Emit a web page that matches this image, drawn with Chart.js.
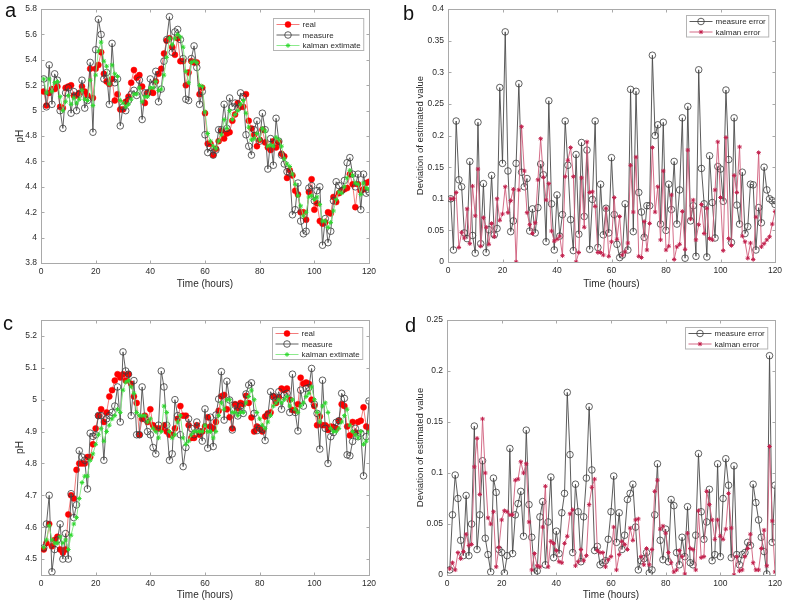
<!DOCTYPE html>
<html>
<head>
<meta charset="utf-8">
<script src="https://cdn.jsdelivr.net/npm/chart.js@4.4.1/dist/chart.umd.min.js"></script>
<style>
  html, body { margin:0; padding:0; background:#ffffff; }
  #wrap { position:relative; width:787px; height:605px; overflow:hidden; background:#fff; }
  canvas { position:absolute; }
  .tag { position:absolute; font-family:"Liberation Sans", Arial, Helvetica, sans-serif; font-size:20px; line-height:20px; color:#111; }
</style>
</head>
<body>
<div id="wrap">
  <canvas id="ca" width="393" height="300" style="left:0px;top:0px;width:393px;height:300px"></canvas>
  <canvas id="cb" width="394" height="300" style="left:393px;top:0px;width:394px;height:300px"></canvas>
  <canvas id="cc" width="393" height="305" style="left:0px;top:300px;width:393px;height:305px"></canvas>
  <canvas id="cd" width="394" height="305" style="left:393px;top:300px;width:394px;height:305px"></canvas>
  <div class="tag" style="left:5px;top:0px">a</div>
  <div class="tag" style="left:403px;top:3px">b</div>
  <div class="tag" style="left:3px;top:313px">c</div>
  <div class="tag" style="left:405px;top:315px">d</div>
</div>
<script>
// ---------------- data ----------------
const hours = [1,2,3,4,5,6,7,8,9,10,11,12,13,14,15,16,17,18,19,20,21,22,23,24,25,26,27,28,29,30,
31,32,33,34,35,36,37,38,39,40,41,42,43,44,45,46,47,48,49,50,51,52,53,54,55,56,57,58,59,60,
61,62,63,64,65,66,67,68,69,70,71,72,73,74,75,76,77,78,79,80,81,82,83,84,85,86,87,88,89,90,
91,92,93,94,95,96,97,98,99,100,101,102,103,104,105,106,107,108,109,110,111,112,113,114,115,116,117,118,119,120];

const xTicks = [0,20,40,60,80,100,120];
const yTicksA = [3.8,4,4.2,4.4,4.6,4.8,5,5.2,5.4,5.6,5.8];
const yTicksB = [0,0.05,0.1,0.15,0.2,0.25,0.3,0.35,0.4];
const yTicksC = [4.5,4.6,4.7,4.8,4.9,5,5.1,5.2];
const yTicksD = [0,0.05,0.1,0.15,0.2,0.25];

// panel a
const realA = [5.15,5.04,5.14,5.17,5.17,5.19,5.03,5.02,5.18,5.19,
5.2,5.12,5.12,5.14,5.19,5.15,5.12,5.33,5.1,5.33,
5.36,5.46,5.29,5.23,5.21,5.25,5.08,5.13,5.01,5.01,
5.07,5.11,5.22,5.32,5.26,5.28,5.19,5.06,5.14,5.15,
5.14,5.23,5.29,5.33,5.45,5.55,5.57,5.5,5.44,5.57,
5.39,5.39,5.2,5.3,5.39,5.38,5.38,5.13,5.18,4.98,
4.74,4.74,4.65,4.7,4.76,4.84,4.78,4.82,4.83,4.92,
4.97,5.06,5.03,5.03,5.13,4.92,4.86,4.81,4.72,4.77,
4.85,4.75,4.71,4.69,4.76,4.71,4.75,4.66,4.64,4.47,
4.53,4.49,4.37,4.34,4.2,4.2,4.14,4.36,4.46,4.22,
4.27,4.13,4.11,4.12,4.2,4.19,4.32,4.28,4.35,4.37,
4.38,4.39,4.5,4.42,4.24,4.42,4.37,4.38,4.43,4.44];
const measureA = [5.25,5.03,5.36,5.05,5.29,5.24,5.0,4.86,5.14,5.18,
4.98,5.15,5.0,5.13,5.24,5.02,5.08,5.38,4.83,5.48,
5.72,5.6,5.25,5.3,5.05,5.53,5.22,5.25,4.88,5.03,
5.0,5.08,5.13,5.16,5.12,5.24,4.93,5.14,5.14,5.25,
5.2,5.31,5.07,5.17,5.39,5.56,5.74,5.46,5.62,5.64,
5.56,5.41,5.09,5.08,5.41,5.51,5.34,5.05,5.15,4.81,
4.67,4.71,4.65,4.69,4.85,4.85,5.05,4.86,5.1,5.03,
5.06,5.02,5.14,5.11,4.81,4.72,4.65,4.85,4.92,4.76,
4.98,4.85,4.54,4.78,4.57,4.94,4.76,4.65,4.58,4.52,
4.51,4.18,4.22,4.43,4.13,4.03,4.05,4.39,4.41,4.29,
4.37,4.4,3.94,4.15,3.96,4.05,4.29,4.44,4.41,4.37,
4.45,4.59,4.63,4.5,4.4,4.5,4.22,4.5,4.35,4.36];
const kalmanA = [5.25,5.14,5.25,5.15,5.22,5.23,5.11,5.0,5.07,5.12,
5.05,5.1,5.06,5.09,5.16,5.09,5.08,5.24,5.04,5.28,
5.47,5.54,5.39,5.35,5.21,5.36,5.29,5.27,5.08,5.06,
5.03,5.05,5.09,5.13,5.13,5.18,5.07,5.11,5.11,5.18,
5.18,5.23,5.16,5.17,5.28,5.42,5.57,5.52,5.57,5.6,
5.58,5.5,5.31,5.22,5.38,5.39,5.38,5.2,5.19,4.99,
4.82,4.76,4.72,4.7,4.76,4.81,4.93,4.86,5.0,4.93,
4.97,5.0,5.05,5.08,4.98,4.87,4.77,4.78,4.82,4.77,
4.86,4.84,4.72,4.73,4.72,4.79,4.77,4.72,4.62,4.58,
4.56,4.5,4.42,4.33,4.25,4.17,4.2,4.32,4.33,4.3,
4.32,4.26,4.13,4.13,4.08,4.12,4.21,4.3,4.36,4.35,
4.4,4.47,4.53,4.49,4.43,4.42,4.34,4.43,4.39,4.38];

// panel b
const measureErrB = [0.1,0.019,0.223,0.13,0.119,0.046,0.037,0.159,0.042,0.014,
0.221,0.029,0.124,0.015,0.051,0.137,0.043,0.053,0.276,0.156,
0.364,0.144,0.048,0.065,0.156,0.282,0.142,0.119,0.132,0.049,
0.084,0.046,0.086,0.155,0.138,0.032,0.255,0.092,0.019,0.106,
0.041,0.075,0.223,0.153,0.067,0.018,0.17,0.044,0.189,0.072,
0.177,0.02,0.099,0.223,0.023,0.123,0.043,0.085,0.046,0.165,
0.075,0.028,0.007,0.011,0.092,0.019,0.273,0.048,0.27,0.11,
0.079,0.039,0.089,0.089,0.327,0.2,0.217,0.06,0.221,0.05,
0.123,0.083,0.159,0.06,0.114,0.228,0.006,0.246,0.065,0.089,
0.009,0.304,0.148,0.092,0.008,0.168,0.094,0.038,0.151,0.147,
0.096,0.272,0.162,0.031,0.228,0.09,0.06,0.142,0.045,0.056,
0.123,0.122,0.019,0.086,0.062,0.15,0.114,0.1,0.097,0.091];
const kalmanErrB = [0.1,0.1,0.11,0.023,0.047,0.038,0.084,0.029,0.12,0.073,
0.147,0.025,0.07,0.055,0.028,0.061,0.04,0.1,0.066,0.076,
0.119,0.078,0.097,0.115,0.0,0.114,0.214,0.144,0.078,0.059,
0.045,0.062,0.13,0.195,0.134,0.098,0.124,0.049,0.033,0.036,
0.041,0.01,0.135,0.161,0.181,0.135,0.0,0.015,0.133,0.055,
0.19,0.11,0.111,0.088,0.015,0.015,0.011,0.085,0.009,0.032,
0.102,0.036,0.072,0.011,0.016,0.03,0.153,0.079,0.166,0.009,
0.007,0.064,0.019,0.061,0.181,0.079,0.119,0.035,0.144,0.019,
0.025,0.106,0.004,0.024,0.028,0.08,0.02,0.177,0.068,0.098,
0.035,0.059,0.091,0.045,0.085,0.037,0.035,0.114,0.19,0.102,
0.018,0.197,0.037,0.026,0.137,0.11,0.182,0.041,0.032,0.006,
0.03,0.004,0.071,0.173,0.024,0.029,0.035,0.04,0.06,0.08];

// panel c
const realC = [4.53,4.55,4.61,4.54,4.56,4.57,4.53,4.52,4.53,4.64,
4.7,4.69,4.78,4.8,4.8,4.8,4.82,4.82,4.86,4.91,
4.95,4.97,4.93,4.96,5.01,5.03,5.06,5.08,5.07,5.08,
5.06,5.08,5.05,5.01,4.99,4.89,4.94,4.95,4.93,4.97,
4.92,4.91,4.91,4.91,4.92,4.9,4.89,4.89,4.91,4.94,
4.98,4.95,4.95,4.92,4.88,4.88,4.92,4.89,4.9,4.916,
4.945,4.916,4.91,4.93,4.965,5.011,5.015,4.97,4.945,4.91,
4.986,4.973,4.99,4.986,5.012,4.99,4.944,4.9,4.916,4.91,
4.9,4.947,4.957,4.96,5.011,4.99,5.007,5.035,5.03,5.035,
5.0,4.968,4.966,4.986,5.069,5.05,5.054,5.05,5.0,4.98,
4.92,4.947,4.92,4.92,4.905,4.916,4.914,4.91,4.934,4.986,
4.98,4.916,4.888,4.93,4.897,4.93,4.934,4.976,4.916,4.91];
const measureC = [4.535,4.61,4.7,4.46,4.53,4.56,4.61,4.5,4.58,4.5,
4.705,4.63,4.67,4.84,4.82,4.81,4.72,4.895,4.885,4.89,
4.95,4.95,4.81,4.94,4.95,4.96,4.98,5.04,4.93,5.15,
5.09,5.08,4.95,5.06,4.89,4.89,5.04,4.94,4.9,4.89,
4.85,4.83,4.92,5.09,5.04,4.92,4.81,4.83,5.0,4.95,
4.89,4.79,4.85,4.94,4.91,4.89,4.93,4.9,4.87,4.971,
4.848,4.945,4.853,4.952,5.002,5.088,4.936,5.058,4.999,4.905,
4.983,4.949,4.98,4.957,5.018,5.046,5.053,4.957,4.903,4.91,
4.907,4.872,4.952,5.025,5.009,4.999,5.025,4.97,5.015,5.02,
4.96,5.08,4.96,4.902,5.03,4.98,5.035,5.038,5.098,4.986,
4.957,4.845,5.061,4.91,4.8,4.884,4.897,4.929,4.934,5.02,
5.004,4.827,4.824,4.869,4.91,4.884,4.895,4.761,4.884,4.996];
const kalmanC = [4.536,4.56,4.605,4.56,4.55,4.55,4.57,4.55,4.56,4.53,
4.575,4.61,4.63,4.69,4.74,4.76,4.76,4.81,4.83,4.86,
4.89,4.91,4.87,4.9,4.92,4.94,4.95,4.97,4.96,5.03,
5.055,5.06,5.04,5.02,4.96,4.95,4.95,4.95,4.93,4.94,
4.91,4.9,4.88,4.9,4.98,4.96,4.9,4.88,4.89,4.93,
4.95,4.88,4.86,4.87,4.89,4.9,4.9,4.9,4.9,4.92,
4.9,4.9,4.88,4.9,4.95,4.99,4.97,5.0,5.0,4.96,
4.96,4.95,4.96,4.96,4.99,5.01,5.03,5.0,4.96,4.94,
4.92,4.91,4.93,4.95,4.98,4.99,5.0,4.99,5.0,5.01,
4.98,5.0,4.97,4.96,4.98,4.99,5.01,5.02,5.04,5.0,
4.96,4.93,4.98,4.99,4.96,4.91,4.9,4.9,4.91,4.93,
4.95,4.97,4.92,4.9,4.89,4.88,4.9,4.86,4.87,4.9];

// panel d
const measureErrD = [0.005,0.059,0.098,0.075,0.034,0.019,0.078,0.019,0.05,0.146,
0.025,0.059,0.112,0.036,0.02,0.003,0.095,0.081,0.025,0.022,
0.002,0.019,0.124,0.021,0.059,0.07,0.082,0.038,0.142,0.069,
0.037,0.002,0.004,0.057,0.072,0.01,0.052,0.096,0.017,0.043,
0.021,0.061,0.08,0.179,0.118,0.022,0.089,0.062,0.013,0.057,
0.095,0.165,0.103,0.024,0.028,0.01,0.012,0.014,0.035,0.062,
0.097,0.032,0.061,0.025,0.039,0.074,0.08,0.089,0.047,0.005,
0.014,0.016,0.022,0.002,0.005,0.059,0.109,0.034,0.015,0.045,
0.013,0.074,0.068,0.022,0.01,0.037,0.018,0.067,0.012,0.01,
0.039,0.119,0.062,0.035,0.052,0.084,0.014,0.02,0.109,0.018,
0.075,0.114,0.088,0.017,0.107,0.02,0.01,0.02,0.022,0.032,
0.029,0.089,0.071,0.054,0.037,0.023,0.001,0.215,0.032,0.088];
const kalmanErrD = [0.006,0.012,0.005,0.022,0.016,0.023,0.04,0.029,0.03,0.106,
0.134,0.079,0.153,0.1,0.056,0.05,0.062,0.008,0.027,0.054,
0.063,0.062,0.059,0.059,0.093,0.094,0.111,0.1,0.109,0.052,
0.005,0.021,0.009,0.008,0.047,0.087,0.008,0.033,0.031,0.024,
0.013,0.012,0.031,0.038,0.06,0.064,0.009,0.013,0.025,0.014,
0.019,0.069,0.086,0.094,0.024,0.022,0.022,0.008,0.015,0.018,
0.047,0.005,0.02,0.033,0.03,0.025,0.046,0.034,0.054,0.055,
0.018,0.01,0.026,0.01,0.025,0.082,0.093,0.045,0.048,0.041,
0.022,0.012,0.003,0.005,0.024,0.018,0.001,0.041,0.026,0.025,
0.005,0.063,0.017,0.018,0.082,0.069,0.054,0.035,0.054,0.038,
0.035,0.045,0.08,0.046,0.0,0.018,0.004,0.005,0.018,0.026,
0.04,0.012,0.005,0.005,0.026,0.044,0.009,0.126,0.053,0.003];

// ---------------- styling ----------------
const FONT = '"Liberation Sans", Arial, Helvetica, sans-serif';
const AXIS_COLOR = '#a9a9a9';
const TEXT_COLOR = '#2b2b2b';

const pts = arr => hours.map((h, i) => ({ x: h, y: arr[i] }));

const styleReal = { borderColor:'#f26c6c', borderWidth:0.9, pointStyle:'circle', pointRadius:3, pointBackgroundColor:'#ff0000', pointBorderColor:'#ff0000', pointBorderWidth:0.5 };
const styleMeasure = { borderColor:'#505050', borderWidth:0.9, pointStyle:'circle', pointRadius:3.3, pointBackgroundColor:'rgba(0,0,0,0)', pointBorderColor:'#3a3a3a', pointBorderWidth:0.8 };
const styleKalman = { borderColor:'#7fe87f', borderWidth:0.9, pointStyle:'star', pointRadius:2.3, pointBackgroundColor:'#2fd82f', pointBorderColor:'#2fd82f', pointBorderWidth:1 };
const styleMErr = { borderColor:'#4a4a4a', borderWidth:0.9, pointStyle:'circle', pointRadius:3.3, pointBackgroundColor:'rgba(0,0,0,0)', pointBorderColor:'#3a3a3a', pointBorderWidth:0.8 };
const styleKErr = { borderColor:'#cf5c7a', borderWidth:0.9, pointStyle:'star', pointRadius:2.2, pointBackgroundColor:'#c2214d', pointBorderColor:'#c2214d', pointBorderWidth:1 };

// box + inward tick marks like MATLAB
const boxPlugin = {
  id: 'mbox',
  beforeDatasetsDraw(chart) {
    const { ctx, chartArea: { left, right, top, bottom }, scales: { x, y } } = chart;
    ctx.save();
    ctx.strokeStyle = AXIS_COLOR;
    ctx.lineWidth = 1;
    const L = Math.round(left) + 0.5, R = Math.round(right) + 0.5, T = Math.round(top) + 0.5, B = Math.round(bottom) + 0.5;
    ctx.strokeRect(L, T, R - L, B - T);
    const tl = 3;
    ctx.beginPath();
    x.ticks.forEach(t => {
      const px = Math.round(x.getPixelForValue(t.value)) + 0.5;
      ctx.moveTo(px, B); ctx.lineTo(px, B - tl);
      ctx.moveTo(px, T); ctx.lineTo(px, T + tl);
    });
    y.ticks.forEach(t => {
      const py = Math.round(y.getPixelForValue(t.value)) + 0.5;
      ctx.moveTo(L, py); ctx.lineTo(L + tl, py);
      ctx.moveTo(R, py); ctx.lineTo(R - tl, py);
    });
    ctx.stroke();
    ctx.restore();
  }
};

function drawMarker(ctx, ds, cx, cy) {
  ctx.save();
  ctx.lineWidth = ds.pointBorderWidth;
  ctx.strokeStyle = ds.pointBorderColor;
  ctx.fillStyle = ds.pointBackgroundColor;
  const r = ds.pointRadius;
  if (ds.pointStyle === 'circle') {
    ctx.beginPath(); ctx.arc(cx, cy, r, 0, Math.PI * 2);
    ctx.fill(); ctx.stroke();
  } else {
    ctx.beginPath();
    for (let k = 0; k < 4; k++) {
      const a = k * Math.PI / 4;
      ctx.moveTo(cx - Math.cos(a) * r, cy - Math.sin(a) * r);
      ctx.lineTo(cx + Math.cos(a) * r, cy + Math.sin(a) * r);
    }
    ctx.stroke();
  }
  ctx.restore();
}

// legend box in the upper right of the axes
const legendPlugin = {
  id: 'mlegend',
  afterDraw(chart, args, opts) {
    const { ctx, chartArea } = chart;
    const dsets = chart.data.datasets;
    ctx.save();
    ctx.font = '8px ' + FONT;
    let maxW = 0;
    dsets.forEach(d => { maxW = Math.max(maxW, ctx.measureText(d.label).width); });
    const rowH = 10.5;
    const w = 29 + maxW + 3;
    const h = 6 + (dsets.length - 1) * rowH + 5;
    const bx = Math.round(chartArea.right - opts.inset - w) + 0.5;
    const by = Math.round(chartArea.top + opts.top) + 0.5;
    ctx.fillStyle = '#ffffff';
    ctx.fillRect(bx, by, w, h);
    ctx.strokeStyle = '#b4b4b4';
    ctx.lineWidth = 1;
    ctx.strokeRect(bx, by, w, h);
    dsets.forEach((d, i) => {
      const cy = by + 6 + i * rowH;
      ctx.strokeStyle = d.borderColor;
      ctx.lineWidth = d.borderWidth;
      ctx.beginPath(); ctx.moveTo(bx + 3, cy); ctx.lineTo(bx + 26, cy); ctx.stroke();
      drawMarker(ctx, d, bx + 14.5, cy);
      ctx.fillStyle = TEXT_COLOR;
      ctx.textBaseline = 'middle';
      ctx.textAlign = 'left';
      ctx.fillText(d.label, bx + 29, cy + 0.5);
    });
    ctx.restore();
  }
};

const fmt = v => String(Number(v.toFixed(3)));

function makeChart(id, datasets, cfg) {
  const tickFont = { family: FONT, size: 8.5 };
  return new Chart(document.getElementById(id), {
    type: 'line',
    data: { datasets },
    options: {
      responsive: false,
      animation: false,
      devicePixelRatio: 1,
      events: [],
      layout: { padding: { top: cfg.padTop, right: cfg.padRight, left: 0, bottom: 0 } },
      elements: { line: { tension: 0 } },
      plugins: {
        legend: { display: false },
        tooltip: { enabled: false },
        mlegend: { inset: cfg.legInset, top: cfg.legTop }
      },
      scales: {
        x: {
          type: 'linear', min: 0, max: 120,
          afterBuildTicks: s => { s.ticks = xTicks.map(v => ({ value: v })); },
          afterFit: s => { s.height = cfg.xH; },
          grid: { display: false, drawTicks: false, tickLength: 0 }, border: { display: false },
          ticks: { font: tickFont, color: TEXT_COLOR, padding: 4, maxRotation: 0, autoSkip: false, callback: v => fmt(v) },
          title: { display: true, text: 'Time (hours)', color: TEXT_COLOR, font: { family: FONT, size: 10 }, padding: { top: 0, bottom: cfg.xTitlePad } }
        },
        y: {
          type: 'linear', min: cfg.yMin, max: cfg.yMax,
          afterBuildTicks: s => { s.ticks = cfg.yTicks.map(v => ({ value: v })); },
          afterFit: s => { s.width = cfg.yW; },
          grid: { display: false, drawTicks: false, tickLength: 0 }, border: { display: false },
          ticks: { font: tickFont, color: TEXT_COLOR, padding: 4, autoSkip: false, callback: v => fmt(v) },
          title: { display: true, text: cfg.yTitle, color: TEXT_COLOR, font: { family: FONT, size: cfg.yTitleSize }, padding: { top: cfg.yTitlePad, bottom: 0 } }
        }
      }
    },
    plugins: [boxPlugin, legendPlugin]
  });
}

makeChart('ca', [
  Object.assign({ label: 'real', data: pts(realA), order: 3 }, styleReal),
  Object.assign({ label: 'measure', data: pts(measureA), order: 2 }, styleMeasure),
  Object.assign({ label: 'kalman extimate', data: pts(kalmanA), order: 1 }, styleKalman)
], { padTop: 6, padRight: 24, xH: 37, yW: 41, yMin: 3.8, yMax: 5.8, yTicks: yTicksA, yTitle: 'pH', yTitleSize: 10, yTitlePad: 14, xTitlePad: 10, legInset: 6, legTop: 9 });

makeChart('cb', [
  Object.assign({ label: 'measure error', data: pts(measureErrB), order: 2 }, styleMErr),
  Object.assign({ label: 'kalman error', data: pts(kalmanErrB), order: 1 }, styleKErr)
], { padTop: 7, padRight: 12, xH: 38, yW: 55, yMin: 0, yMax: 0.4, yTicks: yTicksB, yTitle: 'Deviation of estimated value', yTitleSize: 9.5, yTitlePad: 22, xTitlePad: 10, legInset: 7, legTop: 6 });

makeChart('cc', [
  Object.assign({ label: 'real', data: pts(realC), order: 3 }, styleReal),
  Object.assign({ label: 'measure', data: pts(measureC), order: 2 }, styleMeasure),
  Object.assign({ label: 'kalman extimate', data: pts(kalmanC), order: 1 }, styleKalman)
], { padTop: 20, padRight: 24, xH: 30, yW: 41, yMin: 4.45, yMax: 5.25, yTicks: yTicksC, yTitle: 'pH', yTitleSize: 10, yTitlePad: 14, xTitlePad: 3.5, legInset: 7, legTop: 7 });

makeChart('cd', [
  Object.assign({ label: 'measure error', data: pts(measureErrD), order: 2 }, styleMErr),
  Object.assign({ label: 'kalman error', data: pts(kalmanErrD), order: 1 }, styleKErr)
], { padTop: 20, padRight: 12, xH: 30, yW: 54, yMin: 0, yMax: 0.25, yTicks: yTicksD, yTitle: 'Deviation of estimated value', yTitleSize: 9.5, yTitlePad: 22, xTitlePad: 3.5, legInset: 8, legTop: 7 });
</script>
</body>
</html>
